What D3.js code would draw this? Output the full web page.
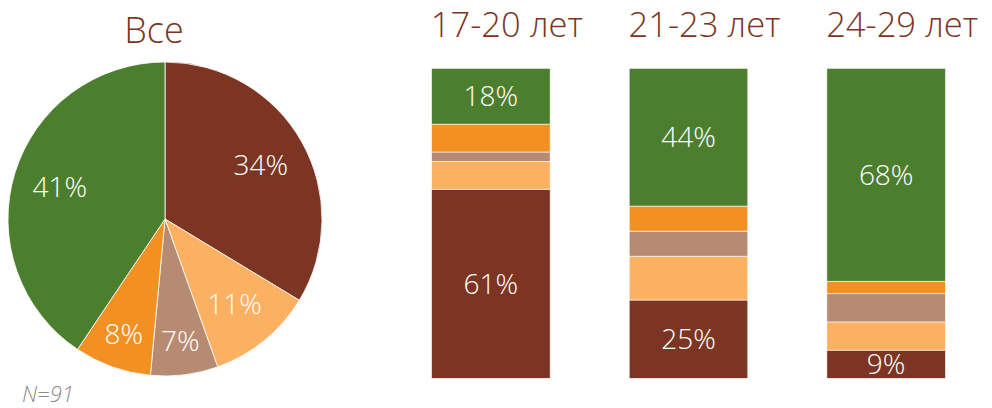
<!DOCTYPE html>
<html>
  <head>
    <meta charset="utf-8">
    <title>Все / по возрастам</title>
    <script src="https://d3js.org/d3.v7.min.js"></script>
    <style>
      body { margin: 0; background: #fff; }
      text { font-family: "Open Sans", "Noto Sans", sans-serif; }
    </style>
  </head>
  <body>
    <div id="vis"></div>
    <script>
        const width = 992;
        const height = 408;

        // data
        const segmentKeys = ["a", "b", "c", "d", "e"];   // bottom to top in bars, clockwise in pie
        const segmentColors = ["#7b3522", "#fbb062", "#b78b72", "#f29121", "#4c7f2d"];

        const pieTitle = "Все";
        const pieValues = [34, 11, 7, 8, 41];
        const sampleNote = "N=91";

        const ageGroups = ["17-20 лет", "21-23 лет", "24-29 лет"];
        const valuesA = [61, 25, 9];    // brown, bottom
        const valuesB = [9, 14, 9];     // light orange
        const valuesC = [3, 8, 9];      // taupe
        const valuesD = [9, 8, 4];      // orange
        const valuesE = [18, 44, 68];   // green, top
        const labelledKeys = ["a", "e"];

        const svg = d3.select("#vis")
                      .append("svg")
                      .attr("width", width)
                      .attr("height", height);

        const color = d3.scaleOrdinal().domain(segmentKeys).range(segmentColors);

        // ---- pie
        const cx = 165, cy = 219, r = 157;
        const pie = d3.pie().sort(null).value(d => d.value);
        const pieData = pie(segmentKeys.map((k, i) => ({ key: k, value: pieValues[i] })));
        const arc = d3.arc().innerRadius(0).outerRadius(r);
        const labelArc = d3.arc().innerRadius(r * 0.7).outerRadius(r * 0.7);
        const smallArc = d3.arc().innerRadius(r * 0.78).outerRadius(r * 0.78);

        const pg = svg.append("g").attr("transform", `translate(${cx},${cy})`);
        pg.selectAll("path")
          .data(pieData)
          .enter()
          .append("path")
          .attr("d", arc)
          .attr("fill", d => color(d.data.key))
          .attr("stroke", "#fff")
          .attr("stroke-width", 0.8);

        pg.selectAll("text")
          .data(pieData)
          .enter()
          .append("text")
          .attr("transform", d => {
            const c = (d.data.value < 10 ? smallArc : labelArc).centroid(d);
            return `translate(${c[0]},${c[1]})`;
          })
          .attr("text-anchor", "middle")
          .attr("dy", "0.36em")
          .attr("fill", "#fff")
          .attr("font-size", 28)
          .attr("font-weight", 300)
          .text(d => d.data.value + "%");

        svg.append("text")
           .attr("x", 154)
           .attr("y", 43)
           .attr("text-anchor", "middle")
           .attr("fill", "#7b3522")
           .attr("font-size", 36)
           .attr("font-weight", 300)
           .text(pieTitle);

        svg.append("text")
           .attr("x", 22)
           .attr("y", 402)
           .attr("fill", "#8c8c8c")
           .attr("font-size", 22)
           .attr("font-style", "italic")
           .attr("font-weight", 300)
           .text(sampleNote);

        // ---- stacked bars
        const rows = ageGroups.map((g, i) => ({
          group: g, a: valuesA[i], b: valuesB[i], c: valuesC[i], d: valuesD[i], e: valuesE[i]
        }));

        const stack = d3.stack().keys(segmentKeys).offset(d3.stackOffsetExpand);
        const series = stack(rows);

        const x = d3.scaleBand()
                    .domain(ageGroups)
                    .range([392, 985])
                    .paddingInner(0.4)
                    .paddingOuter(0.2);

        const y = d3.scaleLinear()
                    .domain([0, 1])
                    .range([378.3, 68.3]);

        const layer = svg.append("g")
                         .selectAll("g")
                         .data(series)
                         .enter()
                         .append("g")
                         .attr("fill", d => color(d.key));

        layer.selectAll("rect")
             .data(d => d.map(p => Object.assign(p, { key: d.key })))
             .enter()
             .append("rect")
             .attr("x", d => x(d.data.group))
             .attr("y", d => y(d[1]))
             .attr("width", x.bandwidth())
             .attr("height", d => y(d[0]) - y(d[1]))
             .attr("stroke", "#fff")
             .attr("stroke-width", 0.6);

        layer.filter(d => labelledKeys.includes(d.key))
             .selectAll("text")
             .data(d => d)
             .enter()
             .append("text")
             .attr("x", d => x(d.data.group) + x.bandwidth() / 2)
             .attr("y", d => (y(d[0]) + y(d[1])) / 2)
             .attr("dy", "0.36em")
             .attr("text-anchor", "middle")
             .attr("fill", "#fff")
             .attr("font-size", 28)
             .attr("font-weight", 300)
             .text(d => d.data[d.key] + "%");

        svg.append("g")
           .selectAll("text")
           .data(ageGroups)
           .enter()
           .append("text")
           .attr("x", d => x(d) + x.bandwidth() / 2 + 16)
           .attr("y", 37)
           .attr("text-anchor", "middle")
           .attr("fill", "#7b3522")
           .attr("font-size", 34.5)
           .attr("font-weight", 300)
           .text(d => d);
    </script>
  </body>
</html>
